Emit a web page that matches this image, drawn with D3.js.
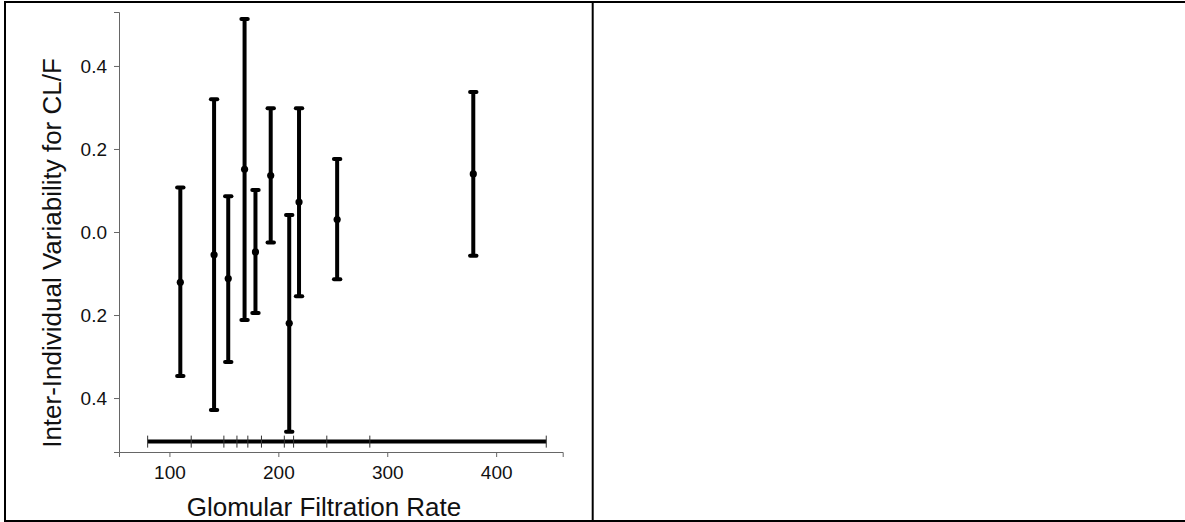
<!DOCTYPE html>
<html>
<head>
<meta charset="utf-8">
<script src="https://cdn.jsdelivr.net/npm/d3@7"></script>
<style>
  body { margin: 0; background: #fff; }
  svg { display: block; font-family: "Liberation Sans", Arial, sans-serif; }
</style>
</head>
<body>
<script>
'use strict';
// GFR bin medians and the estimated variability with its interval
const gfr = [110, 141, 154, 169, 179, 193, 210, 219, 254, 379]
const estimate = [-0.121, -0.055, -0.112, 0.151, -0.048, 0.136, -0.220, 0.072, 0.030, 0.140]
const lower = [-0.347, -0.429, -0.313, -0.212, -0.195, -0.025, -0.481, -0.155, -0.114, -0.057]
const upper = [0.107, 0.320, 0.086, 0.513, 0.101, 0.298, 0.041, 0.298, 0.176, 0.337]
// bin edges shown on the bottom strip
const binEdges = [80, 120, 150, 162, 172, 184.5, 205.5, 214, 244.5, 284, 446]
const stripLevel = -0.505

const xTicks = [100, 200, 300, 400]
const yTicks = [0.4, 0.2, 0.0, -0.2, -0.4]
const yTickLabels = ["0.4", "0.2", "0.0", "0.2", "0.4"]

const width = 1185
const height = 522

let svg = d3.select('body').append('svg')
    .attr('width', width)
    .attr('height', height)

// panel frame
const frame = svg.append('g').attr('stroke', '#000').attr('stroke-width', 2)
frame.append('line').attr('x1', 4).attr('x2', width).attr('y1', 2).attr('y2', 2)
frame.append('line').attr('x1', 4).attr('x2', width).attr('y1', 521).attr('y2', 521)
frame.append('line').attr('x1', 5).attr('x2', 5).attr('y1', 1).attr('y2', 522)
frame.append('line').attr('x1', 592.7).attr('x2', 592.7).attr('y1', 1).attr('y2', 522)

let x = d3.scaleLinear().domain([53.7, 461.1]).range([119, 562.7])
let y = d3.scaleLinear().domain([-0.53, 0.53]).range([452, 12])

const axisColor = '#666'

let xAxis = svg.append('g')
    .attr('transform', `translate(0, ${y.range()[0]})`)
    .call(d3.axisBottom(x).tickValues(xTicks).tickSizeOuter(0).tickSize(5).tickPadding(9))
xAxis.select('.domain').attr('stroke', axisColor)
xAxis.selectAll('.tick line').attr('stroke', axisColor)
xAxis.selectAll('.tick text').attr('font-size', 19).attr('fill', '#111').attr('font-family', null)

let yAxis = svg.append('g')
    .attr('transform', `translate(${x.range()[0]}, 0)`)
    .call(d3.axisLeft(y).tickValues(yTicks).tickSizeOuter(0).tickSize(5)
        .tickPadding(7).tickFormat((d, i) => yTickLabels[i]))
yAxis.select('.domain').attr('stroke', axisColor)
yAxis.selectAll('.tick line').attr('stroke', axisColor)
yAxis.selectAll('.tick text').attr('font-size', 19).attr('fill', '#111').attr('font-family', null)

svg.append('text')
    .attr('x', 324)
    .attr('y', 516)
    .attr('text-anchor', 'middle')
    .attr('font-size', 26)
    .attr('fill', '#111')
    .text('Glomular Filtration Rate')

svg.append('text')
    .attr('transform', 'translate(61, 253) rotate(-90)')
    .attr('text-anchor', 'middle')
    .attr('font-size', 26)
    .attr('fill', '#111')
    .text('Inter-Individual Variability for CL/F')

// bottom strip with bin edges
const strip = svg.append('g')
strip.append('line')
    .attr('x1', x(binEdges[0])).attr('x2', x(binEdges[binEdges.length - 1]))
    .attr('y1', y(stripLevel)).attr('y2', y(stripLevel))
    .attr('stroke', '#000').attr('stroke-width', 4)
strip.selectAll('.edge')
    .data(binEdges)
    .enter()
    .append('line')
    .attr('class', 'edge')
    .attr('x1', d => x(d)).attr('x2', d => x(d))
    .attr('y1', y(stripLevel) - 6).attr('y2', y(stripLevel) + 6)
    .attr('stroke', '#333').attr('stroke-width', 1)

// error bars
const rows = gfr.map((g, i) => ({ g: g, est: estimate[i], lo: lower[i], hi: upper[i] }))

let bars = svg.append('g')
    .selectAll('.bar')
    .data(rows)
    .enter()
    .append('g')
    .attr('class', 'bar')

bars.append('line')
    .attr('x1', d => x(d.g)).attr('x2', d => x(d.g))
    .attr('y1', d => y(d.lo)).attr('y2', d => y(d.hi))
    .attr('stroke', '#000').attr('stroke-width', 4)

const capHalf = 3.2
bars.selectAll('.cap')
    .data(d => [{ g: d.g, v: d.lo }, { g: d.g, v: d.hi }])
    .enter()
    .append('line')
    .attr('class', 'cap')
    .attr('x1', d => x(d.g) - capHalf).attr('x2', d => x(d.g) + capHalf)
    .attr('y1', d => y(d.v)).attr('y2', d => y(d.v))
    .attr('stroke', '#000').attr('stroke-width', 4)
    .attr('stroke-linecap', 'round')

bars.append('circle')
    .attr('cx', d => x(d.g))
    .attr('cy', d => y(d.est))
    .attr('r', 3.6)
    .attr('fill', '#000')
</script>
</body>
</html>
